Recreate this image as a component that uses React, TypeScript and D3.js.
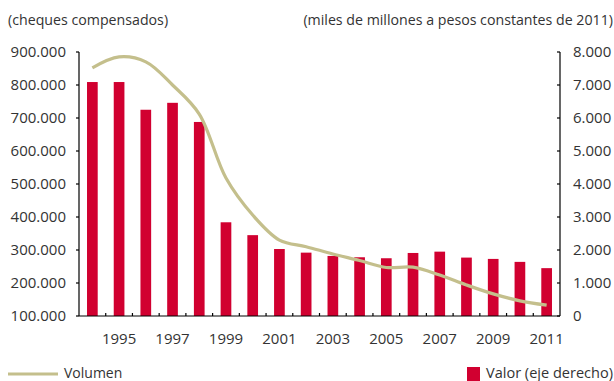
import React from "react";
import * as d3 from "d3";

const years = [1994,1995,1996,1997,1998,1999,2000,2001,2002,2003,2004,2005,2006,2007,2008,2009,2010,2011];
const valor = [7090,7090,6250,6460,5880,2840,2450,2030,1920,1820,1780,1750,1910,1950,1770,1730,1640,1450];
const volumen = [852000,885000,870000,800000,712000,518000,406000,330000,310000,288000,268000,247000,248000,224000,194000,167000,146000,133000];
const leftTicks = [100000,200000,300000,400000,500000,600000,700000,800000,900000];
const rightTicks = [0,1000,2000,3000,4000,5000,6000,7000,8000];
const xLabelYears = [1995,1997,1999,2001,2003,2005,2007,2009,2011];

const W = 614, H = 381;
const L = 79, R = 560, T = 52, B = 316;
const FONT = "'Open Sans', sans-serif";
const TXT = "#333";

const fmt = (v: number) => {
  const s = String(v);
  return s.replace(/\B(?=(\d{3})+(?!\d))/g, ".");
};

export default function App() {
  const x = d3.scaleBand<number>().domain(years).range([L, R]).paddingInner(0.6).paddingOuter(0.3);
  const xb = d3.scaleBand<number>().domain(years).range([L, R]);
  const yL = d3.scaleLinear().domain([100000, 900000]).range([B, T]);
  const yR = d3.scaleLinear().domain([0, 8000]).range([B, T]);
  const line = d3.line<number>()
    .x((_, i) => xb(years[i])! + xb.bandwidth() / 2)
    .y((d) => yL(d))
    .curve(d3.curveCatmullRom.alpha(0.5));

  return (
    <svg width={W} height={H} style={{ position: "absolute", left: 0, top: 0, background: "#fff" }} fontFamily={FONT}>
      <text x={8} y={25} fontSize={14.2} fill={TXT}>(cheques compensados)</text>
      <text x={613} y={25} fontSize={14.2} fill={TXT} textAnchor="end">(miles de millones a pesos constantes de 2011)</text>

      {years.map((yr, i) => (
        <rect key={yr} x={x(yr)} y={yR(valor[i])} width={x.bandwidth()} height={B - yR(valor[i])} fill="#d10030" />
      ))}

      <path d={line(volumen) || ""} fill="none" stroke="#c4bf8c" strokeWidth={3.2} />

      {/* left axis */}
      <line x1={L} x2={L} y1={T} y2={B} stroke="#000" strokeWidth={1.2} />
      {leftTicks.map((t) => (
        <g key={t}>
          <line x1={L - 3} x2={L} y1={yL(t)} y2={yL(t)} stroke="#000" strokeWidth={1.2} />
          <text x={66} y={yL(t)} dy="0.35em" fontSize={15} fill={TXT} textAnchor="end">{fmt(t)}</text>
        </g>
      ))}

      {/* right axis */}
      <line x1={R} x2={R} y1={T} y2={B} stroke="#000" strokeWidth={1.2} />
      {rightTicks.map((t) => (
        <g key={t}>
          <line x1={R - 3} x2={R} y1={yR(t)} y2={yR(t)} stroke="#000" strokeWidth={1.2} />
          <text x={573} y={yR(t)} dy="0.35em" fontSize={15} fill={TXT}>{fmt(t)}</text>
        </g>
      ))}

      {/* x axis */}
      <line x1={L} x2={R} y1={B} y2={B} stroke="#000" strokeWidth={1.2} />
      {years.slice(1).map((yr) => (
        <line key={yr} x1={xb(yr)} x2={xb(yr)} y1={B - 3} y2={B} stroke="#000" strokeWidth={1.2} />
      ))}
      {xLabelYears.map((yr) => (
        <text key={yr} x={xb(yr)! + xb.bandwidth() / 2} y={339} dy="0.35em" fontSize={15} fill={TXT} textAnchor="middle">{yr}</text>
      ))}

      {/* legend */}
      <line x1={8} x2={58} y1={374} y2={374} stroke="#c4bf8c" strokeWidth={3.2} />
      <text x={64} y={378} fontSize={14} fill={TXT}>Volumen</text>
      <rect x={467} y={367} width={13} height={14} fill="#d10030" />
      <text x={613} y={378} fontSize={14} fill={TXT} textAnchor="end" textLength={127} lengthAdjust="spacingAndGlyphs">Valor (eje derecho)</text>
    </svg>
  );
}
